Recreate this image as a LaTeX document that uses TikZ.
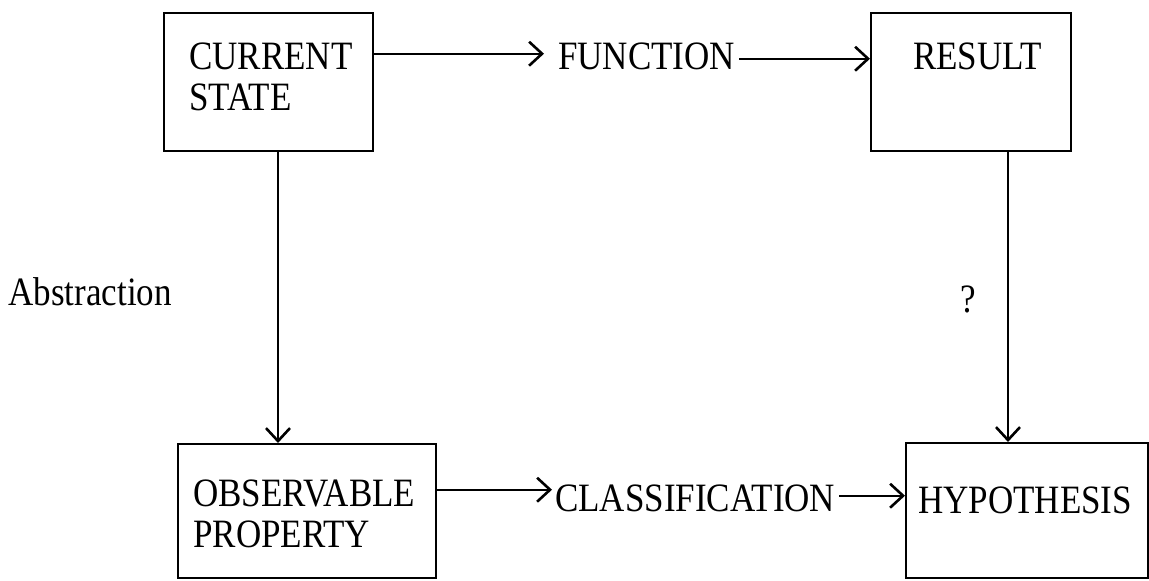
\documentclass[tikz,border=0pt]{standalone}
\usepackage{fontspec}
\setmainfont{Liberation Serif}
\usetikzlibrary{arrows.meta,calc}
% capitals in the scan are slightly taller than the plain font
\newcommand\tallcaps[1]{\scalebox{1}[1.15]{#1}}
\begin{document}
\begin{tikzpicture}[x=1pt,y=-1pt,
  box/.style={draw, line width=2pt, inner sep=0pt, anchor=north west},
  lbl/.style={inner sep=0pt, anchor=north west, align=left,
              font=\fontsize{35pt}{41pt}\selectfont},
  arr/.style={line width=2pt,
              -{Straight Barb[length=13pt,width=24pt,line width=2.6pt]}}]
\useasboundingbox (0,0) rectangle (1149,581);

% boxes
\node[box, minimum width=209pt, minimum height=138pt] (cs)  at (163,12)  {};
\node[box, minimum width=200pt, minimum height=138pt] (res) at (870,12)  {};
\node[box, minimum width=258pt, minimum height=134pt] (obs) at (177,443) {};
\node[box, minimum width=242pt, minimum height=135pt] (hyp) at (905,442) {};

% box texts
\node[lbl] (cstxt)  at (189,43)  {\tallcaps{CURRENT}\\\tallcaps{STATE}};
\node[lbl] (restxt) at (913,43)  {\tallcaps{RESULT}};
\node[lbl] (obstxt) at (193,480) {\tallcaps{OBSERVABLE}\\\tallcaps{PROPERTY}};
\node[lbl] (hyptxt) at (918,487) {\tallcaps{HYPOTHESIS}};

% arrow labels
\node[lbl] (fn) at (558,43)  {\tallcaps{FUNCTION}};
\node[lbl] (cl) at (555,485) {\tallcaps{CLASSIFICATION}};
\node[lbl, anchor=base east] (abs) at (172,305) {\tallcaps{Abstraction}};
\node[lbl, anchor=base west] (q)   at (960,312) {\tallcaps{?}};

% top row
\draw[arr] ($(cs.east|-fn.west)+(0,-3)$) -- ($(fn.west)+(-14,-3)$);
\draw[arr] ($(fn.east)+(4,2)$) -- ($(res.west|-fn.east)+(0,2)$);

% bottom row
\draw[arr] ($(obs.east|-cl.west)+(0,-9)$) -- ($(cl.west)+(-3,-9)$);
\draw[arr] ($(cl.east)+(4,-3)$) -- ($(hyp.west|-cl.east)+(0,-3)$);

% verticals
\coordinate (lt) at ($(cs.south)+(9.5,0)$);
\coordinate (rt) at ($(res.south)+(37,0)$);
\draw[arr] (lt) -- (lt|-obs.north);
\draw[arr] (rt) -- (rt|-hyp.north);
\end{tikzpicture}
\end{document}
